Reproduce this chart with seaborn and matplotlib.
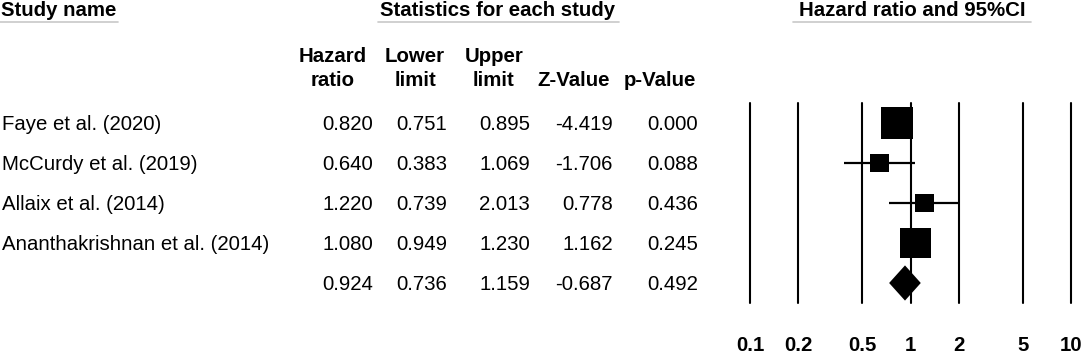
import matplotlib
matplotlib.use("Agg")
import matplotlib.pyplot as plt
from matplotlib import transforms
from matplotlib.lines import Line2D
from matplotlib.ticker import NullLocator
import numpy as np
import pandas as pd
import seaborn as sns

# ---------------- data ----------------
studies = ["Faye et al. (2020)", "McCurdy et al. (2019)",
           "Allaix et al. (2014)", "Ananthakrishnan et al. (2014)"]
hazard_ratio = [0.820, 0.640, 1.220, 1.080]
lower_limit = [0.751, 0.383, 0.739, 0.949]
upper_limit = [0.895, 1.069, 2.013, 1.230]
z_value = [-4.419, -1.706, 0.778, 1.162]
p_value = [0.000, 0.088, 0.436, 0.245]
weights = [37.8, 13.3, 13.3, 35.5]          # relative weight (square size)

pooled_hr = 0.924
pooled_lower = 0.736
pooled_upper = 1.159
pooled_z = -0.687
pooled_p = 0.492

axis_ticks = [0.1, 0.2, 0.5, 1, 2, 5, 10]
axis_tick_labels = ["0.1", "0.2", "0.5", "1", "2", "5", "10"]

# ---------------- style ----------------
sns.set_theme(style="white")
plt.rcParams["font.family"] = ["Liberation Sans", "DejaVu Sans"]
FS = 14.7

W, H = 1084, 357
fig = plt.figure(figsize=(W / 100, H / 100), dpi=100)
fig.patch.set_facecolor("white")

# forest plot axes
ax = fig.add_axes([750 / W, (H - 303) / H, 321 / W, 200 / H])
ax.set_facecolor("none")
ax.set_xscale("log")
ax.set_xlim(axis_ticks[0], axis_ticks[-1])
n_rows = len(studies) + 1
ax.set_ylim(n_rows - 0.5, -0.5)

for t in axis_ticks:
    ax.axvline(t, color="black", lw=1.5, clip_on=False, zorder=1)

df = pd.DataFrame({
    "study": studies, "hr": hazard_ratio, "lower": lower_limit,
    "upper": upper_limit, "weight": weights,
    "row": np.arange(len(studies)),
})

ax.hlines(df["row"], df["lower"], df["upper"], color="black", lw=1.6, zorder=2)
sns.scatterplot(data=df, x="hr", y="row", size="weight", sizes=(187, 529),
                marker="s", color="black", linewidth=0, legend=False,
                ax=ax, zorder=3)

pr = len(studies)
ax.fill([pooled_lower, pooled_hr, pooled_upper, pooled_hr],
        [pr, pr - 0.44, pr, pr + 0.44], color="black", zorder=3, lw=0)

ax.set_xticks(axis_ticks)
ax.set_xticklabels(axis_tick_labels, fontweight="bold")
ax.xaxis.set_minor_locator(NullLocator())
ax.tick_params(axis="x", length=0, pad=24, labelsize=FS, colors="black")
ax.set_yticks([])
ax.set_xlabel("")
ax.set_ylabel("")
for s in ax.spines.values():
    s.set_visible(False)

# ---------------- table text ----------------
row_trans = transforms.offset_copy(
    transforms.blended_transform_factory(fig.transFigure, ax.transData),
    fig=fig, y=-7, units="dots")

col_right = [373, 447, 530, 613, 698]
col_center = [333, 415, 494, 574, 660]

def fmt(v):
    return f"{v:.3f}"

rows_vals = list(zip(hazard_ratio, lower_limit, upper_limit, z_value, p_value))
for i, name in enumerate(studies):
    ax.text(2 / W, i, name, transform=row_trans, ha="left", va="baseline",
            fontsize=FS, color="black")
    for xr, v in zip(col_right, rows_vals[i]):
        ax.text(xr / W, i, fmt(v), transform=row_trans, ha="right",
                va="baseline", fontsize=FS, color="black")
for xr, v in zip(col_right, [pooled_hr, pooled_lower, pooled_upper, pooled_z, pooled_p]):
    ax.text(xr / W, pr, fmt(v), transform=row_trans, ha="right",
            va="baseline", fontsize=FS, color="black")

# headers
def ftext(x, y, s, ha):
    fig.text(x / W, 1 - y / H, s, ha=ha, va="baseline", fontsize=FS,
             fontweight="bold", color="black")

ftext(1, 16, "Study name", "left")
ftext(498, 16, "Statistics for each study", "center")
ftext(912, 16, "Hazard ratio and 95%CI", "center")

head1 = ["Hazard", "Lower", "Upper", "", ""]
head2 = ["ratio", "limit", "limit", "Z-Value", "p-Value"]
for xc, a, b in zip(col_center, head1, head2):
    if a:
        ftext(xc, 62, a, "center")
    ftext(xc, 86, b, "center")

for x0, x1 in [(0, 118), (378, 619), (793, 1031)]:
    fig.add_artist(Line2D([x0 / W, x1 / W], [1 - 21.5 / H] * 2,
                          color="#c8c8c8", lw=1.2))

fig.savefig("out.png", dpi=100)
